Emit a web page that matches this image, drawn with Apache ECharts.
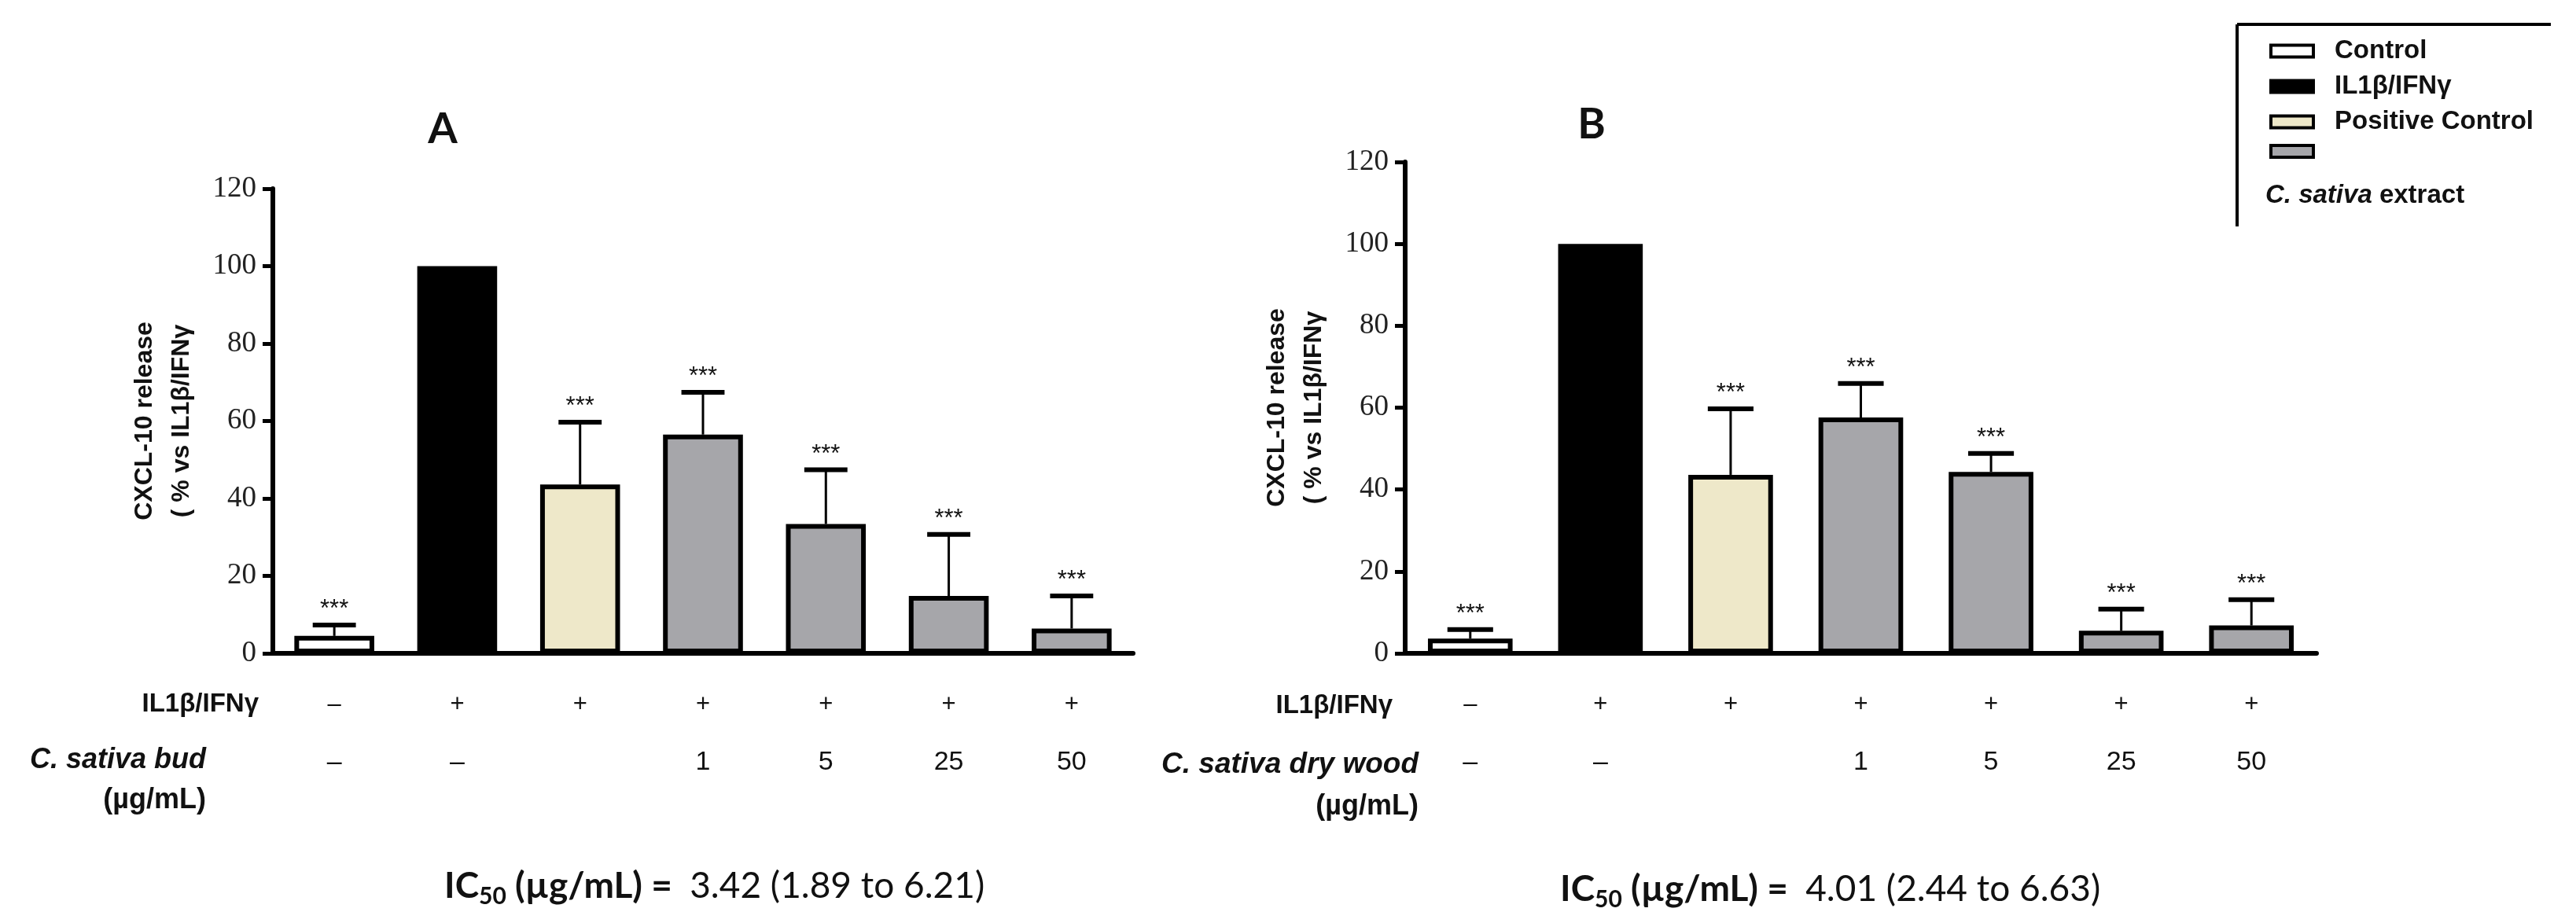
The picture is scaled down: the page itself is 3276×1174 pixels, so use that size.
<!DOCTYPE html>
<html>
<head>
<meta charset="utf-8">
<script src="https://cdn.jsdelivr.net/npm/echarts@6/dist/echarts.min.js"></script>
<style>
html,body{margin:0;padding:0;background:#fff;}
#chart{width:3276px;height:1174px;}
</style>
</head>
<body>
<div id="chart"></div>
<script>
// ---- data ----
const categories = ['Control', 'IL1β/IFNγ', 'Positive Control', '1 µg/mL', '5 µg/mL', '25 µg/mL', '50 µg/mL'];
const ilRow = ['–', '+', '+', '+', '+', '+', '+'];
const doseRow = ['–', '–', '', '1', '5', '25', '50'];
const groupOf = [0, 1, 2, 3, 3, 3, 3];
const groupNames = ['Control', 'IL1β/IFNγ', 'Positive Control', 'C. sativa extract'];
const groupColors = ['#ffffff', '#000000', '#EEE8C9', '#A6A6AA'];
const meanA = [4.5, 100, 43.6, 56.5, 33.4, 14.8, 6.4];
const sdA = [2.8, 0, 16.1, 10.9, 14.0, 15.9, 8.4];
const meanB = [3.6, 100, 43.6, 57.6, 44.3, 5.5, 6.8];
const sdB = [2.2, 0, 16.1, 8.3, 4.5, 5.3, 6.3];
const sigA = ['***', '', '***', '***', '***', '***', '***'];
const sigB = ['***', '', '***', '***', '***', '***', '***'];
const yTicks = {min: 0, max: 120, interval: 20};
const panelTitles = ['A', 'B'];
const extractLabels = ['C. sativa bud', 'C. sativa dry wood'];
const ic50 = [
  {value: '3.42', lo: '1.89', hi: '6.21'},
  {value: '4.01', lo: '2.44', hi: '6.63'}
];

const SANS = 'Liberation Sans';
const SERIF = 'Liberation Serif';
const CAL = 'Lato';

const grids = [
  {left: 347, right: 3276 - 1441, top: 240, bottom: 343},
  {left: 1787, right: 3276 - 2946, top: 206, bottom: 343}
];

function makeAxes(i) {
  const x = {
    type: 'category', gridIndex: i, data: categories,
    axisLine: {lineStyle: {color: '#000', width: 6}},
    axisTick: {alignWithLabel: true, length: 14, lineStyle: {color: '#000', width: 4}},
    axisLabel: {
      interval: 0, margin: 28, lineHeight: 74,
      formatter: (v, idx) => '{a|' + ilRow[idx] + '}\n{b|' + (doseRow[idx] || ' ') + '}',
      rich: {
        a: {fontFamily: SANS, fontSize: 31, color: '#111', lineHeight: 74},
        b: {fontFamily: SANS, fontSize: 34, color: '#111', lineHeight: 74}
      }
    }
  };
  const y = {
    type: 'value', gridIndex: i, min: yTicks.min, max: yTicks.max, interval: yTicks.interval,
    splitLine: {show: false},
    axisLine: {show: true, lineStyle: {color: '#000', width: 6}},
    axisTick: {show: true, length: 13, lineStyle: {color: '#000', width: 5}},
    axisLabel: {fontFamily: SERIF, fontSize: 37, color: '#222', margin: 21},
    name: 'CXCL-10 release\n( % vs IL1β/IFNγ',
    nameLocation: 'middle', nameRotate: 90, nameGap: 92,
    nameTextStyle: {fontFamily: SANS, fontWeight: 'bold', fontSize: 32, lineHeight: 47, color: '#111', align: 'center'}
  };
  return {x, y};
}

const xAxes = [], yAxes = [], series = [];
[[meanA, sdA, sigA], [meanB, sdB, sigB]].forEach(([mean, sd, sig], i) => {
  const ax = makeAxes(i);
  xAxes.push(ax.x); yAxes.push(ax.y);
  groupNames.forEach((name, g) => {
    series.push({
      type: 'bar', name, xAxisIndex: i, yAxisIndex: i,
      barWidth: '65%', barGap: '-100%',
      data: mean.map((v, k) => groupOf[k] === g ? v : '-'),
      itemStyle: {color: groupColors[g], borderColor: '#000', borderWidth: g === 1 ? 0 : 6},
      emphasis: {disabled: true}
    });
  });
  series.push({
    type: 'custom', xAxisIndex: i, yAxisIndex: i, z: 5,
    data: mean.map((v, k) => [k, v, v + sd[k], sd[k]]).filter(d => d[3] > 0),
    renderItem: (params, api) => {
      const k = api.value(0);
      const base = api.coord([k, api.value(1)]);
      const top = api.coord([k, api.value(2)]);
      const bw = api.size([1, 0])[0] * 0.65;
      const half = bw * 0.27;
      return {
        type: 'group',
        children: [
          {type: 'line', shape: {x1: base[0], y1: base[1], x2: top[0], y2: top[1]}, style: {stroke: '#000', lineWidth: 3}},
          {type: 'line', shape: {x1: top[0] - half, y1: top[1], x2: top[0] + half, y2: top[1]}, style: {stroke: '#000', lineWidth: 6}},
          {type: 'text', x: top[0], y: top[1] - 4, style: {text: sig[k], fontFamily: SANS, fontSize: 31, fill: '#111', align: 'center', verticalAlign: 'bottom'}}
        ]
      };
    }
  });
});

function icText(i) {
  const d = ic50[i];
  return '{b|IC}{s|50}{b| (µg/mL) =  }{r|' + d.value + ' (' + d.lo + ' to ' + d.hi + ')}';
}
const icRich = {
  b: {fontFamily: CAL, fontWeight: 'bold', fontSize: 46, fill: '#111', color: '#111'},
  s: {fontFamily: CAL, fontWeight: 'bold', fontSize: 30, fill: '#111', color: '#111', padding: [26, 0, 0, 0]},
  r: {fontFamily: CAL, fontSize: 46, fill: '#111', color: '#111'}
};

const graphic = [
  {type: 'text', x: 563, y: 165, style: {text: panelTitles[0], fontFamily: CAL, fontWeight: 'bold', fontSize: 54, fill: '#111', align: 'center', verticalAlign: 'middle'}},
  {type: 'text', x: 2024, y: 159, style: {text: panelTitles[1], fontFamily: CAL, fontWeight: 'bold', fontSize: 54, fill: '#111', align: 'center', verticalAlign: 'middle'}},
  // row headings A
  {type: 'text', x: 329, y: 896, style: {text: 'IL1β/IFNγ', fontFamily: SANS, fontWeight: 'bold', fontSize: 33, fill: '#111', align: 'right', verticalAlign: 'middle'}},
  {type: 'text', x: 262, y: 967, style: {text: extractLabels[0], fontFamily: SANS, fontWeight: 'bold', fontStyle: 'italic', fontSize: 36, fill: '#111', align: 'right', verticalAlign: 'middle'}},
  {type: 'text', x: 262, y: 1018, style: {text: '(µg/mL)', fontFamily: SANS, fontWeight: 'bold', fontSize: 36, fill: '#111', align: 'right', verticalAlign: 'middle'}},
  // row headings B
  {type: 'text', x: 1771, y: 898, style: {text: 'IL1β/IFNγ', fontFamily: SANS, fontWeight: 'bold', fontSize: 33, fill: '#111', align: 'right', verticalAlign: 'middle'}},
  {type: 'text', x: 1804, y: 973, style: {text: extractLabels[1], fontFamily: SANS, fontWeight: 'bold', fontStyle: 'italic', fontSize: 37, fill: '#111', align: 'right', verticalAlign: 'middle'}},
  {type: 'text', x: 1804, y: 1026, style: {text: '(µg/mL)', fontFamily: SANS, fontWeight: 'bold', fontSize: 36, fill: '#111', align: 'right', verticalAlign: 'middle'}},
  // IC50
  {type: 'text', x: 565, y: 1127, style: {text: icText(0), rich: icRich, verticalAlign: 'middle'}},
  {type: 'text', x: 1984, y: 1131, style: {text: icText(1), rich: icRich, verticalAlign: 'middle'}},
  // legend frame
  {type: 'line', shape: {x1: 2845, y1: 31, x2: 3244, y2: 31}, style: {stroke: '#000', lineWidth: 4}},
  {type: 'line', shape: {x1: 2845, y1: 31, x2: 2845, y2: 288}, style: {stroke: '#000', lineWidth: 4}},
  {type: 'text', x: 2881, y: 249, style: {
    text: '{i|C. sativa}{n| extract}', verticalAlign: 'middle',
    rich: {
      i: {fontFamily: SANS, fontWeight: 'bold', fontStyle: 'italic', fontSize: 33, fill: '#111', color: '#111'},
      n: {fontFamily: SANS, fontWeight: 'bold', fontSize: 33, fill: '#111', color: '#111'}
    }
  }}
];

const chart = echarts.init(document.getElementById('chart'), null, {renderer: 'canvas'});
chart.setOption({
  backgroundColor: '#fff',
  animation: false,
  grid: grids,
  xAxis: xAxes,
  yAxis: yAxes,
  legend: {
    data: groupNames, orient: 'vertical', left: 2881, top: 43,
    itemWidth: 54, itemHeight: 15, itemGap: 11, icon: 'rect',
    selectedMode: false,
    itemStyle: {borderWidth: 4, borderColor: '#000'},
    textStyle: {fontFamily: SANS, fontWeight: 'bold', fontSize: 33, color: '#111', lineHeight: 34, padding: [0, 0, 0, 22]},
    formatter: n => n === 'C. sativa extract' ? '' : n
  },
  graphic,
  series
});
</script>
</body>
</html>
